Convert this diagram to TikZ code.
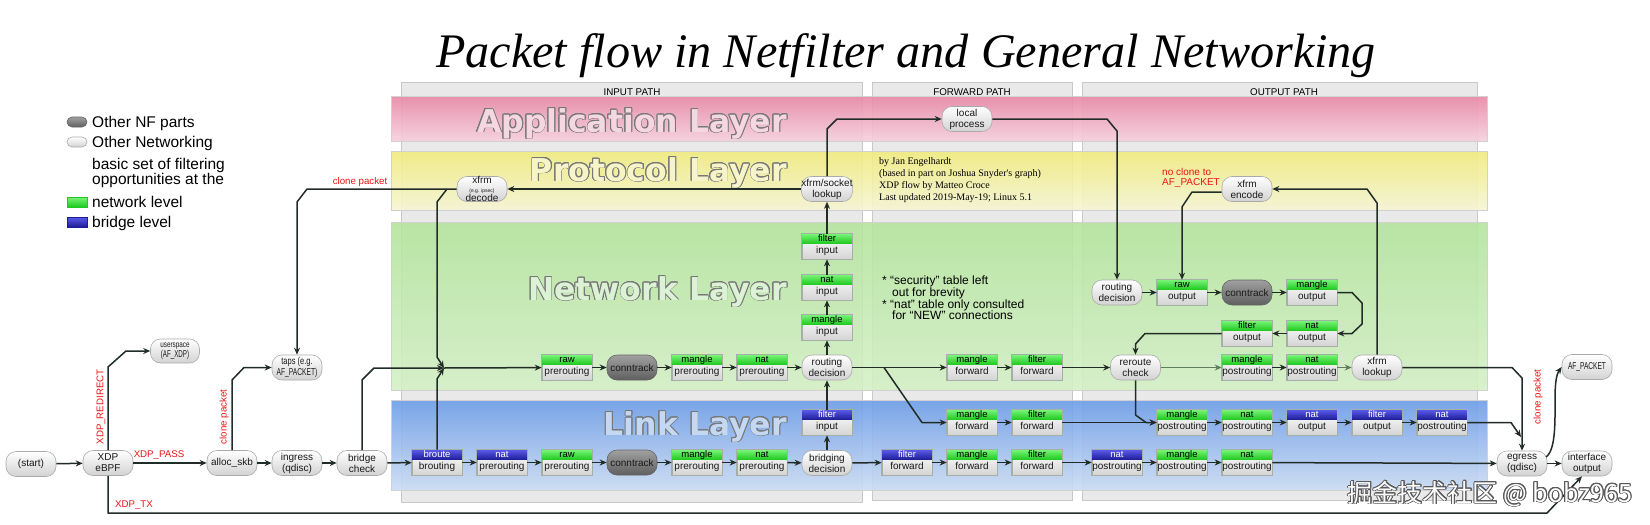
\documentclass[tikz,border=0pt]{standalone}
\usepackage{fontspec}
\setmainfont{Liberation Sans}
\newfontfamily\seriff{Liberation Serif}
\newfontfamily\layerf{DejaVu Sans}
\newfontfamily\cjkf{Noto Sans CJK SC}
\usepackage{graphicx}
\usepackage{contour}
\contourlength{0.9pt}
\usetikzlibrary{arrows.meta}

\definecolor{edgec}{RGB}{34,44,38}
\definecolor{edgel}{RGB}{95,125,95}
\definecolor{pillb}{RGB}{170,170,170}
\definecolor{pillbot}{RGB}{210,210,210}
\definecolor{ctop}{RGB}{160,160,160}
\definecolor{cbot}{RGB}{95,95,95}
\definecolor{cbord}{RGB}{100,100,100}
\definecolor{gtop}{RGB}{120,245,120}
\definecolor{gbot}{RGB}{30,200,30}
\definecolor{btop}{RGB}{90,90,235}
\definecolor{bbot}{RGB}{28,28,150}
\definecolor{tblb}{RGB}{165,175,165}
\definecolor{tblbot}{RGB}{212,212,212}
\definecolor{txt}{RGB}{25,25,25}
\definecolor{redc}{RGB}{235,20,20}
\definecolor{panelc}{RGB}{233,233,233}
\definecolor{panelb}{RGB}{200,200,200}
\definecolor{apptop}{RGB}{232,135,165}
\definecolor{appbot}{RGB}{246,208,222}
\definecolor{protop}{RGB}{240,236,125}
\definecolor{probot}{RGB}{246,245,212}
\definecolor{nettop}{RGB}{178,228,155}
\definecolor{netbot}{RGB}{212,240,198}
\definecolor{lnktop}{RGB}{105,155,232}
\definecolor{lnkbot}{RGB}{202,220,244}
\definecolor{appfg}{RGB}{245,215,226}
\definecolor{profg}{RGB}{246,244,200}
\definecolor{netfg}{RGB}{220,242,212}
\definecolor{lnkfg}{RGB}{196,216,242}
\definecolor{lblout}{RGB}{120,120,120}
\definecolor{wmgray}{RGB}{90,90,90}

\newcommand\nf{\fontsize{10}{11}\selectfont}
\newcommand\hf{\fontsize{9.5}{10}\selectfont}
\newcommand\rf{\fontsize{9.7}{10}\selectfont}

\tikzset{
  pill/.style={draw=pillb, line width=0.6pt, rounded corners=10pt, top color=white, bottom color=pillbot,
    minimum width=50pt, minimum height=25pt, inner sep=0pt, align=center, font=\nf, text=txt},
  dpill/.style={pill, top color=ctop, bottom color=cbot, draw=cbord},
  tbl/.style={draw=tblb, line width=0.6pt, top color=white, bottom color=tblbot,
    minimum width=50pt, minimum height=25pt, inner sep=0pt},
  hdrg/.style={font=\hf, text=black, inner sep=0pt, text height=6.8pt, text depth=1.9pt},
  hdrb/.style={font=\hf, text=white, inner sep=0pt, text height=6.8pt, text depth=1.9pt},
  bodyt/.style={font=\nf, text=txt, inner sep=0pt, text height=7.2pt, text depth=2.1pt},
  arr/.style={draw=edgec, line width=1.5pt, line join=round, -{Stealth[length=7pt,width=6pt]}},
  arrl/.style={arr, draw=edgel, line width=1.1pt},
  rlab/.style={text=redc, font=\rf, inner sep=0pt},
  leg/.style={font=\fontsize{15.5}{11}\selectfont, inner sep=0pt, anchor=base west, text=black},
  pathlab/.style={font=\fontsize{9.8}{10}\selectfont, inner sep=0pt, text=black},
  layerlab/.style={anchor=base east, inner sep=0pt, font=\layerf\bfseries\fontsize{31.5}{32}\selectfont},
}

\newcommand\tb[5]{%
  \node[tbl] (#1) at (#2) {};
  \shade[top color=#3top, bottom color=#3bot] (#1.north west) rectangle ([yshift=-10pt]#1.north east);
  \draw[draw=tblb, line width=0.6pt] (#1.north west) rectangle (#1.south east);
  \node[hdr#3] (#1-h) at ([yshift=-5pt]#1.north) {#4};
  \node[bodyt] (#1-b) at ([yshift=-17.5pt]#1.north) {#5};
}

\begin{document}
\begin{tikzpicture}[x=1pt,y=-1pt]
\useasboundingbox (0,0) rectangle (1650,525);
\fill[white] (0,0) rectangle (1650,525);

% title
\node[anchor=base, inner sep=0pt, font=\seriff\itshape\fontsize{48.2}{50}\selectfont] (title) at (906,67) {Packet flow in Netfilter and General Networking};

% panels
\filldraw[fill=panelc, draw=panelb, line width=0.8pt] (401,82) rectangle (862,502);
\filldraw[fill=panelc, draw=panelb, line width=0.8pt] (872,82) rectangle (1072,500);
\filldraw[fill=panelc, draw=panelb, line width=0.8pt] (1082,82) rectangle (1477,500);
\node[pathlab] (p-in) at (632,92) {INPUT PATH};
\node[pathlab] (p-fw) at (972,92) {FORWARD PATH};
\node[pathlab] (p-out) at (1284,92) {OUTPUT PATH};

% bands
\shade[top color=apptop, bottom color=appbot, opacity=0.9] (391,96) rectangle (1487,141);
\shade[top color=protop, bottom color=probot, opacity=0.9] (391,151) rectangle (1487,210);
\shade[top color=nettop, bottom color=netbot, opacity=0.88] (391,222) rectangle (1487,390);
\shade[top color=lnktop, bottom color=lnkbot, opacity=0.88] (391,400) rectangle (1487,490);
\draw[draw=black!18, line width=0.6pt] (391,96) rectangle (1487,141) (391,151) rectangle (1487,210)
  (391,222) rectangle (1487,390) (391,400) rectangle (1487,490);

\node[layerlab, text=appfg] (t-app) at (787,132) {\contour{lblout}{Application Layer}};
\node[layerlab, text=profg] (t-pro) at (787,181) {\contour{lblout}{Protocol Layer}};
\node[layerlab, text=netfg] (t-net) at (787,300) {\contour{lblout}{Network Layer}};
\node[layerlab, text=lnkfg] (t-lnk) at (787,435) {\contour{lblout}{Link Layer}};

% legend
\node[dpill, minimum width=20pt, minimum height=10pt, rounded corners=5pt] (lg-nf) at (77,122) {};
\node[pill, minimum width=20pt, minimum height=10pt, rounded corners=5pt] (lg-on) at (77,142) {};
\node[draw=gbot, line width=0.4pt, top color=gtop, bottom color=gbot, minimum width=20pt, minimum height=10pt, inner sep=0pt] (lg-g) at (77,202) {};
\node[draw=bbot, line width=0.4pt, top color=btop, bottom color=bbot, minimum width=20pt, minimum height=10pt, inner sep=0pt] (lg-b) at (77,222) {};
\node[leg] (lt-1) at (92,127.3) {Other NF parts};
\node[leg] (lt-2) at (92,147) {Other Networking};
\node[leg] (lt-3) at (92,169.5) {basic set of filtering};
\node[leg] (lt-4) at (92,184.5) {opportunities at the};
\node[leg] (lt-5) at (92,207) {network level};
\node[leg] (lt-6) at (92,227) {bridge level};

% notes
\node[anchor=north west, align=left, inner sep=0pt, font=\seriff\fontsize{10}{12}\selectfont] (notes1) at (879,157)
  {by Jan Engelhardt\\(based in part on Joshua Snyder's graph)\\XDP flow by Matteo Croce\\Last updated 2019-May-19; Linux 5.1};
\node[anchor=north west, align=left, inner sep=0pt, font=\fontsize{12}{11.7}\selectfont] (notes2) at (882,276)
  {* “security” table left\\\hspace*{10pt}out for brevity\\* “nat” table only consulted\\\hspace*{10pt}for “NEW” connections};

% left nodes
\node[pill] (start) at (31,464) {(start)};
\node[pill] (xdp) at (108,463) {XDP\\eBPF};
\node[pill, minimum width=49pt, minimum height=24pt] (usr) at (175,351)
  {\scalebox{0.75}[1]{\fontsize{8.5}{9}\selectfont userspace}\\[-1pt]\scalebox{0.62}[1]{(AF\_XDP)}};
\node[pill] (alloc) at (232,463) {alloc\_skb};
\node[pill] (ingress) at (297,463) {ingress\\(qdisc)};
\node[pill] (bcheck) at (362,463) {bridge\\check};
\node[pill] (taps) at (297,367.5) {\scalebox{0.75}[1]{taps (e.g.}\\\scalebox{0.67}[1]{AF\_PACKET)}};

% link layer bottom row
\tb{broute}{437,462.5}{b}{broute}{brouting}
\tb{lnatpre}{502,462.5}{b}{nat}{prerouting}
\tb{lrawpre}{567,462.5}{g}{raw}{prerouting}
\node[dpill] (lct) at (632,462.5) {conntrack};
\tb{lmangpre}{697,462.5}{g}{mangle}{prerouting}
\tb{lnatpre2}{762,462.5}{g}{nat}{prerouting}
\node[pill] (bdec) at (827,463) {bridging\\decision};
\tb{bfiltin}{827,422.5}{b}{filter}{input}
\tb{bfiltfwd}{907,462.5}{b}{filter}{forward}
\tb{lmangfwd}{972,462.5}{g}{mangle}{forward}
\tb{lfiltfwd}{1037,462.5}{g}{filter}{forward}
\tb{bnatpost}{1117,462.5}{b}{nat}{postrouting}
\tb{lmangpost}{1182,462.5}{g}{mangle}{postrouting}
\tb{lnatpost}{1247,462.5}{g}{nat}{postrouting}
\node[pill] (egress) at (1522,463.5) {egress\\(qdisc)};
\node[pill] (ifout) at (1587,463.5) {interface\\output};
\node[pill] (afp) at (1587,367) {\scalebox{0.66}[1]{AF\_PACKET}};

% link layer middle row
\tb{mmangfwd}{972,422.5}{g}{mangle}{forward}
\tb{mfiltfwd}{1037,422.5}{g}{filter}{forward}
\tb{mmangpost}{1182,422.5}{g}{mangle}{postrouting}
\tb{mnatpost}{1247,422.5}{g}{nat}{postrouting}
\tb{bnatout}{1312,422.5}{b}{nat}{output}
\tb{bfiltout}{1377,422.5}{b}{filter}{output}
\tb{bnatpost2}{1442,422.5}{b}{nat}{postrouting}

% network layer
\tb{rawpre}{567,367.5}{g}{raw}{prerouting}
\node[dpill] (ct) at (632,367.5) {conntrack};
\tb{mangpre}{697,367.5}{g}{mangle}{prerouting}
\tb{natpre}{762,367.5}{g}{nat}{prerouting}
\node[pill] (rdec) at (827,367.5) {routing\\decision};
\tb{mangin}{827,327.5}{g}{mangle}{input}
\tb{natin}{827,287.5}{g}{nat}{input}
\tb{filtin}{827,246.5}{g}{filter}{input}
\tb{nmangfwd}{972,367.5}{g}{mangle}{forward}
\tb{nfiltfwd}{1037,367.5}{g}{filter}{forward}
\node[pill] (reroute) at (1135.5,367.5) {reroute\\check};
\tb{nmangpost}{1247,367.5}{g}{mangle}{postrouting}
\tb{nnatpost}{1312,367.5}{g}{nat}{postrouting}
\node[pill] (xfrmlk) at (1377,367.5) {xfrm\\lookup};
\node[pill] (ordec) at (1117,292.5) {routing\\decision};
\tb{rawout}{1182,292.5}{g}{raw}{output}
\node[dpill] (octrk) at (1247,292.5) {conntrack};
\tb{mangout}{1312,292.5}{g}{mangle}{output}
\tb{natout}{1312,333.5}{g}{nat}{output}
\tb{filtout}{1247,333.5}{g}{filter}{output}

% protocol / application
\node[pill] (sock) at (827,189) {xfrm/socket\\lookup};
\node[pill] (decode) at (482,189) {xfrm\\[-2.5pt]{\fontsize{5}{5}\selectfont (e.g. ipsec)}\\[-2pt]decode};
\node[pill] (local) at (967,119) {local\\process};
\node[pill] (encode) at (1247,189) {xfrm\\encode};

% red labels
\node[rlab] (l-pass) at (159,455) {XDP\_PASS};
\node[rlab, rotate=90] (l-redir) at (101,407) {XDP\_REDIRECT};
\node[rlab] (l-tx) at (134,505) {XDP\_TX};
\node[rlab, rotate=90] (l-clone1) at (224,417) {clone packet};
\node[rlab] (l-clone2) at (360,182) {clone packet};
\node[rlab, rotate=90] (l-clone3) at (1538,397) {clone packet};
\node[rlab, anchor=north west, align=left, font=\fontsize{10}{10}\selectfont] (l-noclone) at (1162,168) {no clone to\\AF\_PACKET};

% edges
\draw[arr] (start) -- (xdp);
\draw[arr] (xdp) -- (alloc);
\draw[arr] (xdp.north) -- (108,367) -- (126,351) -- (usr.west);
\draw[arr] (xdp.south) -- (108,513) -- (1547,513) -- ([xshift=-5pt]ifout.south);
\draw[arr] (alloc) -- (ingress);
\draw[arr] (ingress) -- (bcheck);
\draw[arr] (alloc.north) -- (232,380) -- (244,367.5) -- (taps.west);
\draw[arr] (decode.west) -- (307,189) -- (297,202) -- (taps.north);
\coordinate (dj) at (447,189);
\coordinate (m) at (444,368);
\draw[arr] (dj) -- (437,202) -- (437,357) -- (m);
\draw[arr] (bcheck.north) -- (362,380) -- (374,368) -- (m);
\draw[arr] (broute.north) -- (437,379) -- (m);
\draw[arr] (m) -- (rawpre);
\draw[arr] (bcheck) -- (broute);

\foreach \a/\b in {broute/lnatpre, lnatpre/lrawpre, lrawpre/lct, lct/lmangpre, lmangpre/lnatpre2,
  lnatpre2/bdec, bdec/bfiltfwd, bfiltfwd/lmangfwd, lmangfwd/lfiltfwd, lfiltfwd/bnatpost,
  bnatpost/lmangpost, lmangpost/lnatpost, lnatpost/egress, egress/ifout,
  rawpre/ct, ct/mangpre, mangpre/natpre, natpre/rdec, rdec/nmangfwd, nmangfwd/nfiltfwd, nfiltfwd/reroute,
  nmangpost/nnatpost,
  mmangfwd/mfiltfwd, mfiltfwd/mmangpost, mmangpost/mnatpost, mnatpost/bnatout, bnatout/bfiltout, bfiltout/bnatpost2,
  bdec/bfiltin, bfiltin/rdec, rdec/mangin, mangin/natin, natin/filtin, filtin/sock,
  ordec/rawout, rawout/octrk, octrk/mangout, natout/filtout, sock/decode}
  \draw[arr] (\a) -- (\b);

\coordinate (fb) at (884,367.5);
\draw[arr] (fb) -- (922,422.5) -- (mmangfwd.west);
\draw[arr] (reroute.south) -- (1135.5,415) -- (1146,422.5) -- (mmangpost.west);
\draw[arrl] (reroute) -- (nmangpost);
\draw[arrl] (nnatpost) -- (xfrmlk);
\draw[arr] (mangout.east) -- (1352,292.5) -- (1362,303) -- (1362,324) -- (1352,333.5) -- (natout.east);
\draw[arr] (filtout.west) -- (1145,333.5) -- (1135.5,344) -- (reroute.north);
\draw[arr] (xfrmlk.north) -- (1377,203) -- (1367,189) -- (encode.east);
\draw[arr] ([yshift=-3pt]encode.west) -- (1192,192) -- (1182,207) -- (rawout.north);
\draw[arr] (sock.north) -- (827,129) -- (837,119) -- (local.west);
\draw[arr] (local.east) -- (1107,119) -- (1117,131) -- (ordec.north);
\draw[arr] (xfrmlk.east) -- (1512,367.5) -- (1522,378) -- (egress.north);
\coordinate (ej) at (1521,437);
\draw[arr] (bnatpost2.east) -- (1511,422.5) -- (ej);
\draw[arr] (1546,457) .. controls (1556,450) and (1555,420) .. (1555,400) .. controls (1555,385) and (1556,375) .. (afp.west);

% watermark
\node[inner sep=0pt, text=white, font=\cjkf\fontsize{25}{25}\selectfont] (wm) at (1490,494) {\contour{wmgray}{掘金技术社区 @ bobz965}};
\end{tikzpicture}
\end{document}
